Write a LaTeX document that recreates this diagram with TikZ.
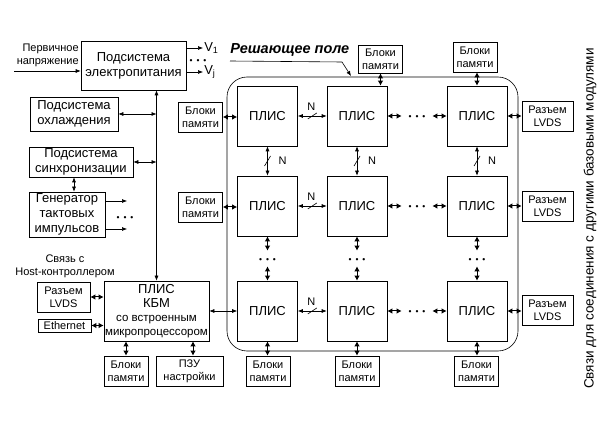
\documentclass[tikz,border=0pt]{standalone}
\usepackage{fontspec}
\setmainfont{Liberation Sans}
\usetikzlibrary{positioning,arrows.meta,calc}

\tikzset{
  box/.style={draw, rectangle, inner sep=0pt, align=center, font=\fontsize{13}{15}\selectfont},
  plis/.style={box, minimum width=60pt, minimum height=60pt, font=\fontsize{13}{15}\selectfont},
  mem/.style={box, minimum width=44pt, minimum height=30pt, font=\fontsize{11}{13}\selectfont},
  smalltxt/.style={inner sep=0pt, align=center, font=\fontsize{11}{13}\selectfont},
  dotsrow/.style={inner sep=0pt, minimum width=30pt, minimum height=15pt, font=\fontsize{8.5}{9}\selectfont},
  dblarr/.style={{Latex[length=5pt,width=4pt]}-{Latex[length=5pt,width=4pt]}},
  shortarr/.style={line width=1pt, {Latex[length=5pt,width=5.5pt]}-{Latex[length=5pt,width=5.5pt]}},
  onearr/.style={-{Latex[length=5pt,width=4pt]}}
}
\newcommand{\mydots}{\raisebox{-4pt}[0pt][0pt]{\textbullet\hspace{4pt}\textbullet\hspace{4pt}\textbullet}}

\begin{document}
\begin{tikzpicture}[x=1pt,y=-1pt,line width=0.6pt]
\useasboundingbox (0,0) rectangle (614,422);
% service subsystems
\node[box, minimum width=105pt, minimum height=49pt] (power) at (133.5,65.5) {Подсистема\\электропитания};
\node[smalltxt, align=right, anchor=east] (vin) at (79,55) {Первичное\\напряжение};
\coordinate (vinstart) at (14,71);
\draw[onearr] (vinstart) -- (vinstart -| power.west);
\coordinate (vout1) at (203,48);
\coordinate (voutj) at (203,72);
\draw[onearr] (vout1 -| power.east) -- (vout1) node[right, inner sep=1pt, font=\fontsize{13}{15}\selectfont] {V\textsubscript{1}};
\draw[onearr] (voutj -| power.east) -- (voutj) node[right, inner sep=1pt, font=\fontsize{13}{15}\selectfont] {V\textsubscript{j}};
\node[dotsrow, minimum width=0pt, minimum height=0pt] (vdots) at (198,60) {\mydots};
\node[box, minimum width=88pt, minimum height=34pt] (cool) at (74,114) {Подсистема\\охлаждения};
\node[box, minimum width=104pt, minimum height=30pt] (sync) at (81,162) {Подсистема\\синхронизации};
\node[box, minimum width=76pt, minimum height=45pt] (gen) at (67,214.5) {Генератор\\тактовых\\импульсов};
\coordinate (gout1) at (127,201);
\coordinate (gout2) at (127,229);
\draw[onearr] (gout1 -| gen.east) -- (gout1);
\draw[onearr] (gout2 -| gen.east) -- (gout2);
\node[dotsrow, minimum width=0pt, minimum height=0pt] (gdots) at (125,217) {\mydots};
\draw[dblarr] ([xshift=7pt]gen.north) -- ([xshift=7pt]gen.north |- sync.south);
% host side
\node[smalltxt] (host) at (65,266.5) {Связь с\\Host-контроллером};
\node[box, minimum width=105pt, minimum height=60pt, font=\fontsize{11.5}{14}\selectfont] (kbm) at (156.5,311) {{\fontsize{13}{14}\selectfont ПЛИС}\\{\fontsize{13}{14}\selectfont КБМ}\\со встроенным\\микропроцессором};
\node[mem, minimum width=53pt] (lvdsk) at (63.5,297) {Разъем\\LVDS};
\node[mem, minimum width=53pt, minimum height=13pt] (eth) at (64.5,325.5) {Ethernet};
\node[mem] (memk) at (126,371) {Блоки\\памяти};
\node[mem, minimum width=67pt] (rom) at (189.5,371) {ПЗУ\\настройки};
\draw[shortarr] (lvdsk.east) -- (lvdsk.east -| kbm.west);
\draw[shortarr] (eth.east) -- (eth.east -| kbm.west);
\draw[shortarr] (memk.north) -- (memk.north |- kbm.south);
\draw[shortarr] ([xshift=3.5pt]rom.north) -- ([xshift=3.5pt]rom.north |- kbm.south);
% bus
\draw[dblarr] (power.south -| kbm.north) -- (kbm.north);
\draw[dblarr] (cool.east) -- (cool.east -| kbm.north);
\draw[dblarr] (sync.east) -- (sync.east -| kbm.north);
% decision field
\node[draw, rounded corners=20pt, minimum width=291pt, minimum height=274pt, inner sep=0pt] (field) at (372.5,214) {};
\node[inner sep=0pt, anchor=west, font=\fontsize{14.5}{16}\selectfont\bfseries\itshape] (title) at (230,50) {Решающее поле};
\coordinate (titlestart) at (230,61);
\coordinate (titleend) at (351,76);
\draw[onearr] (titlestart) -- (342,62) -- (titleend);
\node[plis] (p11) at (267.5,116) {ПЛИС};
\node[plis] (p12) at (357,116) {ПЛИС};
\node[plis] (p13) at (477,116) {ПЛИС};
\node[plis] (p21) at (267.5,206) {ПЛИС};
\node[plis] (p22) at (357,206) {ПЛИС};
\node[plis] (p23) at (477,206) {ПЛИС};
\node[plis] (p31) at (267.5,311) {ПЛИС};
\node[plis] (p32) at (357,311) {ПЛИС};
\node[plis] (p33) at (477,311) {ПЛИС};
\draw[dblarr] (kbm.east) -- (p31.west);
% N-bit links
\draw[dblarr] (p11.east) -- coordinate[midway] (nh1) (p12.west);
\draw[dblarr] (p21.east) -- coordinate[midway] (nh2) (p22.west);
\draw[dblarr] (p31.east) -- coordinate[midway] (nh3) (p32.west);
\draw (nh1) +(-4.5,3) -- +(4.5,-3);
\draw (nh2) +(-4.5,3) -- +(4.5,-3);
\draw (nh3) +(-4.5,3) -- +(4.5,-3);
\node[smalltxt] at ($(nh1)+(-1,-9)$) {N};
\node[smalltxt] at ($(nh2)+(-1,-9)$) {N};
\node[smalltxt] at ($(nh3)+(-1,-9)$) {N};
\draw[dblarr] (p11.south) -- coordinate[midway] (nv1) (p21.north);
\draw[dblarr] (p12.south) -- coordinate[midway] (nv2) (p22.north);
\draw[dblarr] (p13.south) -- coordinate[midway] (nv3) (p23.north);
\draw (nv1) +(-3,5) -- +(3,-5);
\draw (nv2) +(-3,5) -- +(3,-5);
\draw (nv3) +(-3,5) -- +(3,-5);
\node[smalltxt] at ($(nv1)+(15,0)$) {N};
\node[smalltxt] at ($(nv2)+(15,0)$) {N};
\node[smalltxt] at ($(nv3)+(15,0)$) {N};
% continued rows and columns
\node[dotsrow] (dh1) at ($(p12.east)!.5!(p13.west)$) {\mydots};
\node[dotsrow] (dh2) at ($(p22.east)!.5!(p23.west)$) {\mydots};
\node[dotsrow] (dh3) at ($(p32.east)!.5!(p33.west)$) {\mydots};
\draw[shortarr] (p12.east) -- (dh1.west);
\draw[shortarr] (dh1.east) -- (p13.west);
\draw[shortarr] (p22.east) -- (dh2.west);
\draw[shortarr] (dh2.east) -- (p23.west);
\draw[shortarr] (p32.east) -- (dh3.west);
\draw[shortarr] (dh3.east) -- (p33.west);
\node[dotsrow] (dv1) at ($(p21.south)!.5!(p31.north)$) {\mydots};
\node[dotsrow] (dv2) at ($(p22.south)!.5!(p32.north)$) {\mydots};
\node[dotsrow] (dv3) at ($(p23.south)!.5!(p33.north)$) {\mydots};
\draw[shortarr] (p21.south) -- (dv1.north);
\draw[shortarr] (dv1.south) -- (p31.north);
\draw[shortarr] (p22.south) -- (dv2.north);
\draw[shortarr] (dv2.south) -- (p32.north);
\draw[shortarr] (p23.south) -- (dv3.north);
\draw[shortarr] (dv3.south) -- (p33.north);
% memory and connectors around the field
\node[mem] (ml1) at (200.5,117) {Блоки\\памяти};
\node[mem] (ml2) at (200.5,207) {Блоки\\памяти};
\node[mem, minimum height=28pt] (mt2) at (380.5,59) {Блоки\\памяти};
\node[mem] (mt3) at (475,57) {Блоки\\памяти};
\node[mem] (mb1) at (268,371) {Блоки\\памяти};
\node[mem] (mb2) at (357,371) {Блоки\\памяти};
\node[mem] (mb3) at (476.5,371) {Блоки\\памяти};
\node[mem, minimum width=51pt] (lv1) at (547.5,116) {Разъем\\LVDS};
\node[mem, minimum width=51pt] (lv2) at (547.5,206.5) {Разъем\\LVDS};
\node[mem, minimum width=51pt] (lv3) at (547.5,310.5) {Разъем\\LVDS};
\draw[shortarr] (ml1.east) -- (ml1.east -| p11.west);
\draw[shortarr] (ml2.east) -- (ml2.east -| p21.west);
\draw[shortarr] (mt2.south) -- (mt2.south |- p12.north);
\draw[shortarr] (p13.north) -- (p13.north |- mt3.south);
\draw[shortarr] (p31.south) -- (p31.south |- mb1.north);
\draw[shortarr] (p32.south) -- (p32.south |- mb2.north);
\draw[shortarr] (p33.south) -- (p33.south |- mb3.north);
\draw[shortarr] (p13.east) -- (p13.east -| lv1.west);
\draw[shortarr] (p23.east) -- (p23.east -| lv2.west);
\draw[shortarr] (p33.east) -- (p33.east -| lv3.west);
\node[rotate=90, inner sep=0pt, font=\fontsize{13.5}{15}\selectfont] (side) at (590,218.5) {Связи для соединения с другими базовыми модулями};
\end{tikzpicture}
\end{document}
